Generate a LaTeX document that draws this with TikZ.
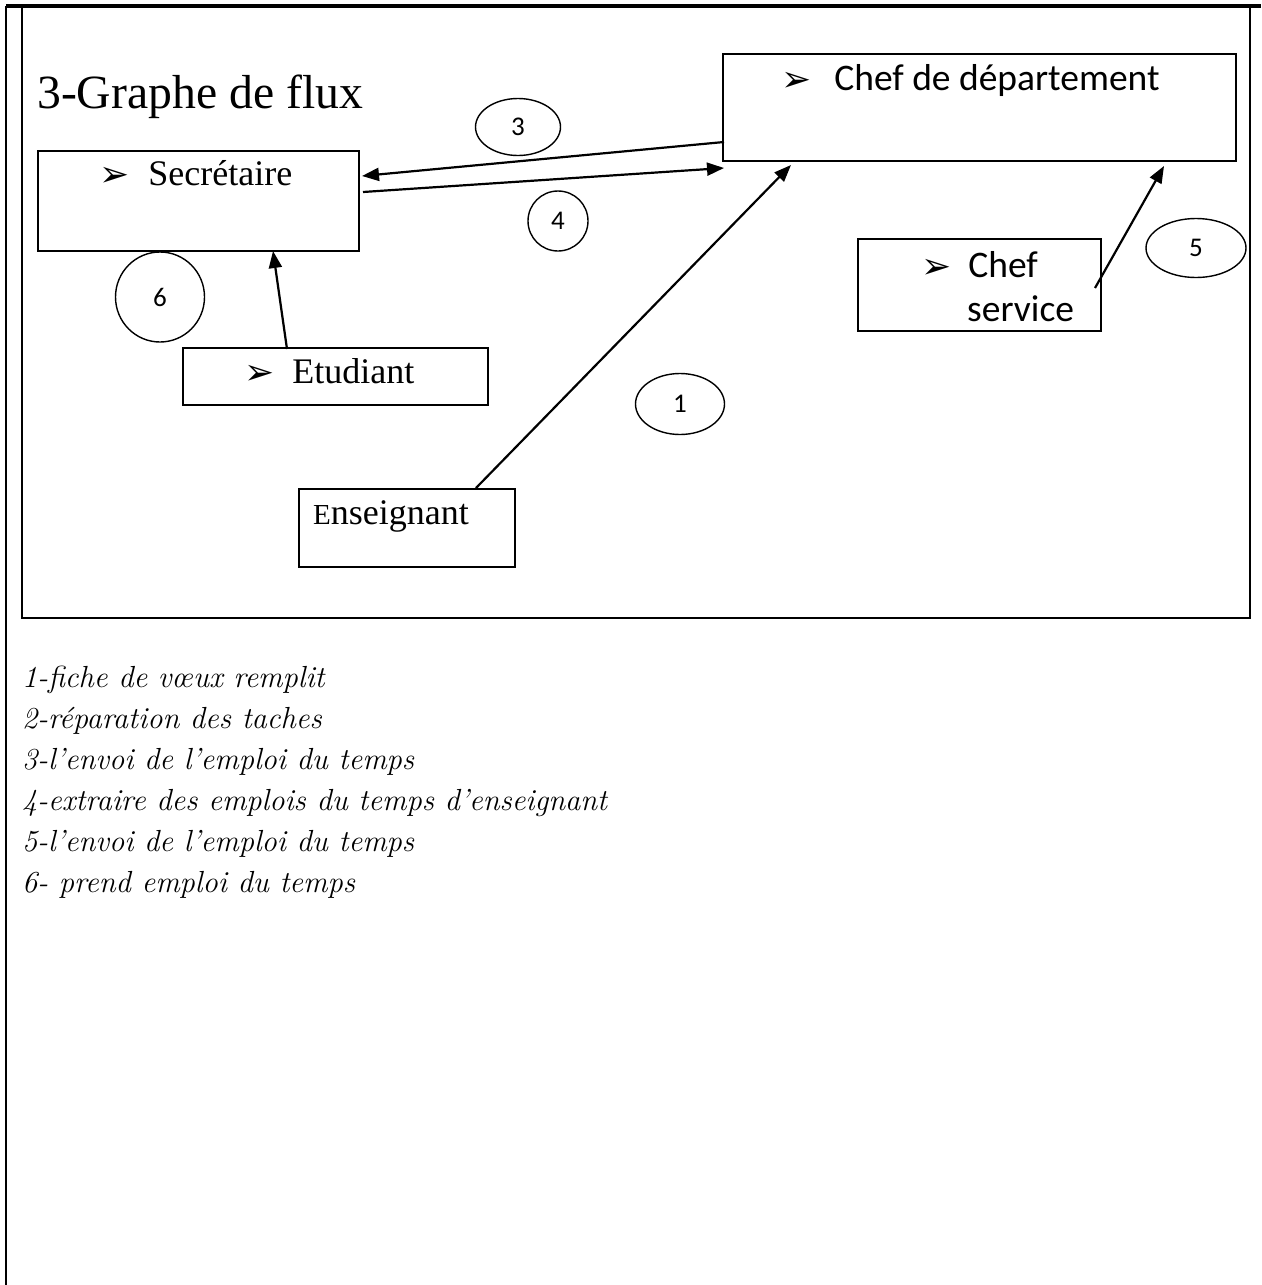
\documentclass[tikz,border=0pt]{standalone}
\usepackage{fontspec}
\setmainfont{Liberation Serif}
\newfontfamily\calfont{Carlito}
\newfontfamily\djfont{DejaVu Sans}
\newfontfamily\legfont{Latin Modern Roman}
\usetikzlibrary{arrows.meta,shapes.geometric}
\newcommand{\bul}{{\djfont\fontsize{36}{36}\selectfont\raisebox{-1pt}{➢}}}
\begin{document}
\begin{tikzpicture}[x=1pt,y=-1pt,
  box/.style={draw,line width=2pt,anchor=north west,inner sep=0pt},
  num/.style={draw,ellipse,line width=1.4pt,inner sep=0pt,font=\calfont\fontsize{27}{27}\selectfont},
  flow/.style={line width=2.2pt,-{Triangle[length=17pt,width=13pt]}},
  frame/.style={line width=2.4pt}]
\useasboundingbox (0,0) rectangle (1261,1285);
% frames
\draw[line width=4pt] (6,6) -- (1261,6);
\draw[frame] (6,6) -- (6,1285);
\draw[frame] (22,6) -- (22,618) -- (1250,618) -- (1250,6);
% title
\node[anchor=base west,inner sep=0pt,font=\fontsize{47.7}{47.7}\selectfont] (title) at (37,108) {3-Graphe de flux};
% boxes
\node[box,minimum width=321pt,minimum height=100pt] (sec) at (37,150) {};
\node[anchor=base west,inner sep=0pt,font=\fontsize{36}{36}\selectfont] (sect) at (99,185) {\bul\hspace{19pt}Secrétaire};
\node[box,minimum width=513pt,minimum height=107pt] (cd) at (722,53) {};
\node[anchor=base west,inner sep=0pt,font=\calfont\fontsize{37.5}{37.5}\selectfont] (cdt) at (781,90) {\bul\hspace{23pt}Chef de département};
\node[box,minimum width=243pt,minimum height=92pt] (cs) at (857,238) {};
\node[anchor=base west,inner sep=0pt,font=\calfont\fontsize{37.5}{37.5}\selectfont] (cst1) at (921,277) {\bul\hspace{17pt}Chef};
\node[anchor=base west,inner sep=0pt,font=\calfont\fontsize{37.5}{37.5}\selectfont] (cst2) at (967,321) {service};
\node[box,minimum width=305pt,minimum height=57pt] (et) at (182,347) {};
\node[anchor=base west,inner sep=0pt,font=\fontsize{36}{36}\selectfont] (ett) at (244,383) {\bul\hspace{18pt}Etudiant};
\node[box,minimum width=216pt,minimum height=78pt] (en) at (298,488) {};
\node[anchor=base west,inner sep=0pt,font=\fontsize{36}{36}\selectfont] (ent) at (313,524) {{\fontsize{29}{29}\selectfont E}nseignant};
% numbered ellipses
\node[num,minimum width=85pt,minimum height=57pt] (n3) at (518,127) {3};
\node[num,minimum width=60pt,minimum height=60pt] (n4) at (558,221) {4};
\node[num,minimum width=89pt,minimum height=90pt] (n6) at (160,297) {6};
\node[num,minimum width=89pt,minimum height=61pt] (n1) at (680,404) {1};
\node[num,minimum width=100pt,minimum height=59pt] (n5) at (1196,248) {5};
% connectors
\coordinate (a3s) at (724,142);
\coordinate (a3e) at (362,176);
\coordinate (a4s) at (363,192);
\coordinate (a4e) at (724,168);
\coordinate (a1s) at (476,488);
\coordinate (a1e) at (791,165);
\coordinate (a5s) at (1095,288);
\coordinate (a5e) at (1164,166);
\coordinate (a6s) at (287,349);
\coordinate (a6e) at (273,251);
\draw[flow] (a3s) -- (a3e);
\draw[flow] (a4s) -- (a4e);
\draw[flow] (a1s) -- (a1e);
\draw[flow] (a5s) -- (a5e);
\draw[flow] (a6s) -- (a6e);
% legend
\node[anchor=north west,inner sep=0pt,align=left,font=\legfont\itshape\fontsize{30.5}{41}\selectfont] (leg) at (22,666) {1-fiche de vœux remplit\\
2-réparation des taches\\
3-l’envoi de l’emploi du temps\\
4-extraire des emplois du temps d’enseignant\\
5-l’envoi de l’emploi du temps\\
6- prend emploi du temps};
\end{tikzpicture}
\end{document}
